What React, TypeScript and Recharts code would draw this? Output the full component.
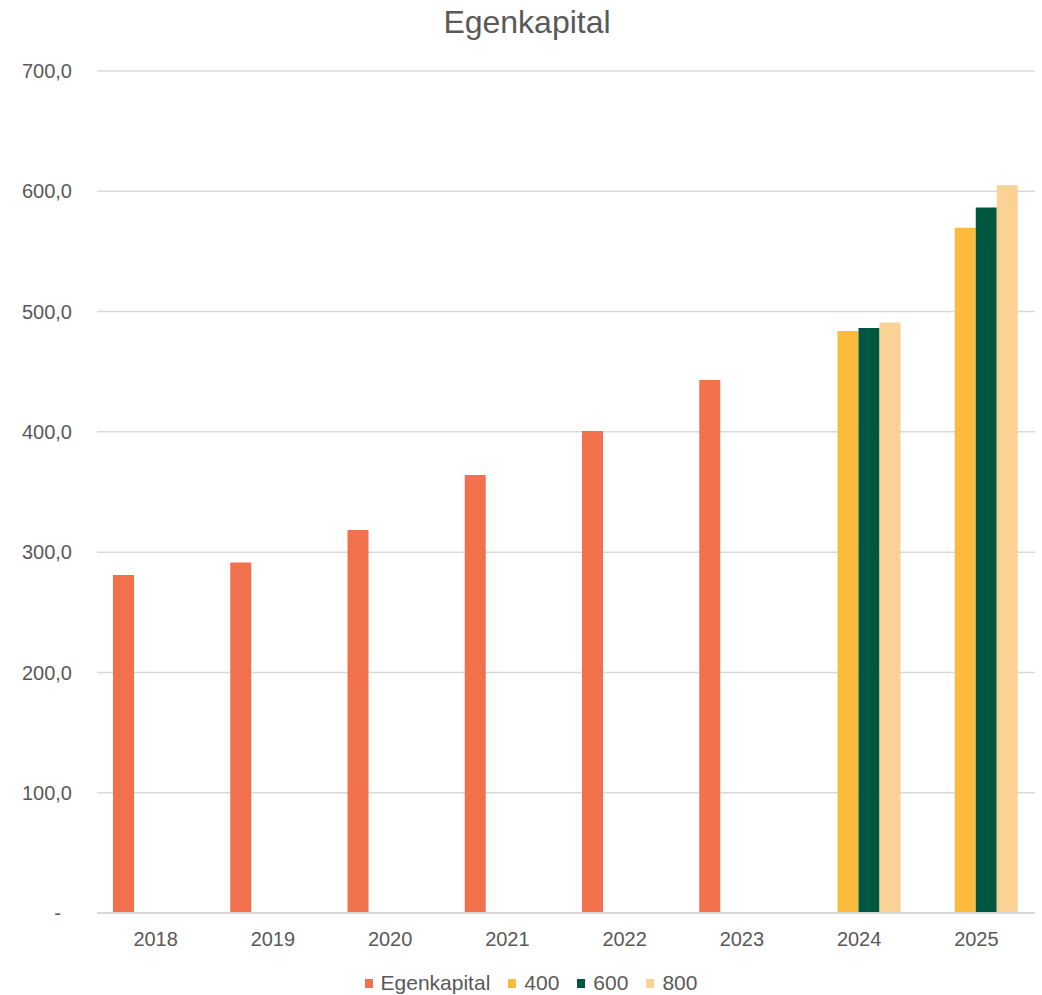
import React from 'react';
import { BarChart, Bar, XAxis, YAxis, CartesianGrid, Legend } from 'recharts';

const years = ['2018', '2019', '2020', '2021', '2022', '2023', '2024', '2025'];
const egenkapital = [281.0, 291.3, 318.4, 364.1, 400.8, 443.1, null, null];
const s400 = [null, null, null, null, null, null, 483.8, 569.6];
const s600 = [null, null, null, null, null, null, 486.3, 586.5];
const s800 = [null, null, null, null, null, null, 491.0, 605.0];
const yTicks = [0, 100, 200, 300, 400, 500, 600, 700];

const series = [
  { key: 'Egenkapital', color: '#F2714D' },
  { key: '400', color: '#FDBB3E' },
  { key: '600', color: '#00573F' },
  { key: '800', color: '#FBD295' },
];

const data = years.map((y, i) => ({
  year: y,
  Egenkapital: egenkapital[i],
  '400': s400[i],
  '600': s600[i],
  '800': s800[i],
}));

const textColor = '#595959';
const font = '"Liberation Sans", Arial, sans-serif';

const fmt = (v: number) => (v === 0 ? '-' : v.toFixed(1).replace('.', ','));

const YTick = (props: any) => {
  const { x, y, payload } = props;
  const zero = payload.value === 0;
  return (
    <text x={zero ? x - 11 : x} y={y} dy="0.355em" textAnchor="end" fill={textColor} fontSize={20} fontFamily={font}>
      {fmt(payload.value)}
    </text>
  );
};

const LegendContent = () => (
  <div style={{ display: 'flex', justifyContent: 'center', alignItems: 'center', paddingLeft: 45, height: 24, fontFamily: font, fontSize: 21, color: textColor }}>
    {series.map((s) => (
      <div key={s.key} style={{ display: 'flex', alignItems: 'center', marginRight: 18 }}>
        <span style={{ display: 'inline-block', width: 8, height: 9, background: s.color, marginRight: 8 }} />
        <span>{s.key}</span>
      </div>
    ))}
  </div>
);

export default function App() {
  return (
    <div style={{ position: 'absolute', left: 0, top: 0, width: 1042, height: 995, background: '#fff', fontFamily: font }}>
      <div style={{ position: 'absolute', left: 0, top: 6, width: 1054, textAlign: 'center', fontSize: 32, lineHeight: '32px', color: textColor }}>
        Egenkapital
      </div>
      <BarChart
        width={1042}
        height={995}
        data={data}
        margin={{ top: 71, right: 7, left: 0, bottom: 0 }}
        barCategoryGap={16}
        barGap={0}
      >
        <CartesianGrid vertical={false} stroke="#D9D9D9" strokeWidth={1.5} />
        <XAxis
          dataKey="year"
          height={58}
          tickLine={false}
          axisLine={{ stroke: '#D9D9D9', strokeWidth: 2 }}
          tickMargin={13}
          tick={{ fill: textColor, fontSize: 20, fontFamily: font }}
        />
        <YAxis
          width={97}
          domain={[0, 700]}
          ticks={yTicks}
          interval={0}
          axisLine={false}
          tickLine={false}
          tickMargin={19}
          tick={<YTick />}
        />
        <Legend verticalAlign="bottom" height={24} content={<LegendContent />} />
        {series.map((s) => (
          <Bar key={s.key} dataKey={s.key} fill={s.color} isAnimationActive={false} />
        ))}
      </BarChart>
    </div>
  );
}
